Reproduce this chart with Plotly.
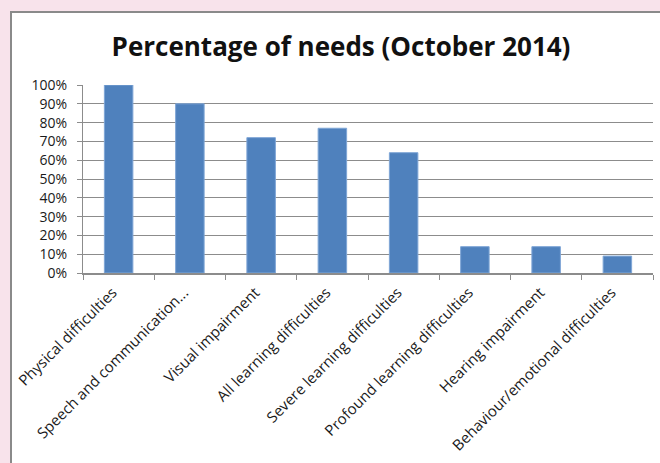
import plotly.graph_objects as go

categories = ["Physical difficulties", "Speech and communication...", "Visual impairment",
              "All learning difficulties", "Severe learning difficulties",
              "Profound learning difficulties", "Hearing impairment",
              "Behaviour/emotional difficulties"]
values = [1.00, 0.90, 0.72, 0.77, 0.64, 0.14, 0.14, 0.09]
y_ticks = [i / 10 for i in range(11)]

W, H = 660, 463
L, R, T, B = 83, 7, 85, 190
PW, PH = W - L - R, H - T - B

fig = go.Figure(go.Bar(x=categories, y=values,
                       marker=dict(color="#4f81bd", line=dict(color="#7fa6d6", width=1))))

fig.update_layout(
    width=W, height=H,
    paper_bgcolor="#f8e3eb",
    plot_bgcolor="white",
    margin=dict(l=L, r=R, t=T, b=B, autoexpand=False),
    bargap=0.6,
    showlegend=False,
    title=dict(text="<b>Percentage of needs (October 2014)</b>",
               font=dict(family="Open Sans, Lato, sans-serif", size=26, color="#111111"),
               x=341 / W, xanchor="center", y=1 - 47 / H, yanchor="middle"),
    shapes=[dict(type="rect", xref="paper", yref="paper",
                 x0=(11 - L) / PW, x1=(664 - L) / PW,
                 y0=-(B + 5) / PH, y1=1 + (T - 12) / PH,
                 fillcolor="white", line=dict(color="#8a8a8a", width=2), layer="below")],
)

fig.update_yaxes(range=[0, 1], tickvals=y_ticks, tickformat=".0%", automargin=False,
                 showgrid=True, gridcolor="#8c8c8c", gridwidth=1,
                 showline=True, linecolor="#8c8c8c", linewidth=1,
                 ticks="outside", ticklen=5, tickcolor="#8c8c8c", ticklabelstandoff=7,
                 tickfont=dict(family="Open Sans, sans-serif", size=14, color="#1a1a1a"),
                 zeroline=False)
fig.update_xaxes(tickangle=-45, tickson="boundaries", ticks="outside", ticklen=5, automargin=False,
                 tickcolor="#8c8c8c", showline=True, linecolor="#8c8c8c", linewidth=2,
                 ticklabelshift=-6, ticklabelstandoff=3,
                 tickfont=dict(family="Open Sans, sans-serif", size=15, color="#1a1a1a"))

fig.write_html("out.html", config={"displayModeBar": False},
               post_script="document.body.style.margin='0';document.body.style.overflow='hidden';")
